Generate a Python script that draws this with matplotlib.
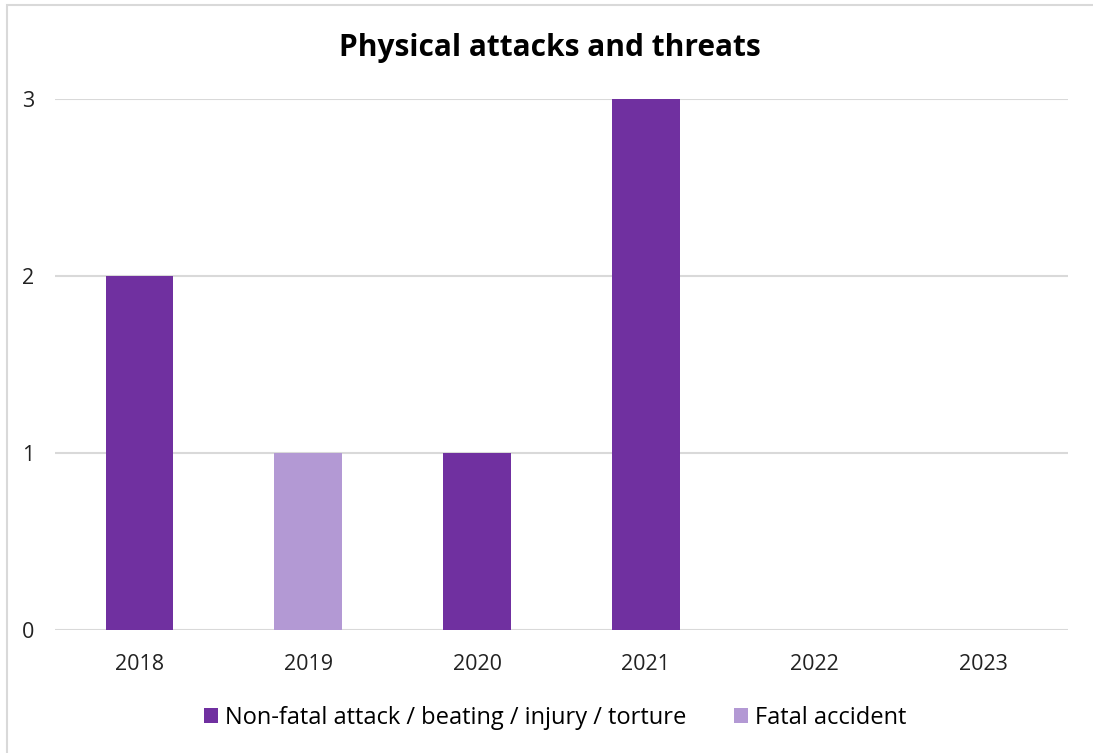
import numpy as np
import matplotlib
matplotlib.use("Agg")
from matplotlib import pyplot as plt
from matplotlib.patches import Rectangle

years = ["2018", "2019", "2020", "2021", "2022", "2023"]
non_fatal = [2, 0, 1, 3, 0, 0]
fatal = [0, 1, 0, 0, 0, 0]

plt.rcParams['font.family'] = ["Open Sans", 'DejaVu Sans']

fig = plt.figure(figsize=(10.93, 7.53), dpi=100)
# light frame round the chart
fig.patches.append(Rectangle((7/1093, -0.1), 1.2, 1 - 5/753 + 0.1, transform=fig.transFigure,
                             fill=False, edgecolor="#D9D9D9", linewidth=1.5))
ax = fig.add_axes([55/1093, 1 - 630/753, 1013/1093, 531/753])

x = np.arange(len(years))
ax.bar(x, non_fatal, width=0.4, color="#7030A0", label="Non-fatal attack / beating / injury / torture", zorder=3)
ax.bar(x, fatal, width=0.4, bottom=non_fatal, color="#B399D4", label="Fatal accident", zorder=3)

ax.set_xlim(-0.5, len(years) - 0.5)
ax.set_ylim(0, 3)
ax.set_yticks([0, 1, 2, 3])
ax.set_xticks(x)
ax.set_xticklabels(years)
ax.tick_params(length=0, labelsize=15.5, colors="#222222")
ax.tick_params(axis="x", pad=17)
ax.tick_params(axis="y", pad=24)
for lbl in ax.get_yticklabels():
    lbl.set_horizontalalignment("left")
ax.grid(axis="y", color="#D9D9D9", linewidth=1.5, zorder=0)
for s in ax.spines.values():
    s.set_visible(False)

fig.text(0.503, 1 - 48/753, "Physical attacks and threats", ha="center", va="center",
         fontsize=21.5, fontweight="bold")
fig.legend(loc="center", bbox_to_anchor=(0.508, 1 - 718/753), ncol=2, frameon=False,
           fontsize=17, handlelength=0.6, handleheight=0.6, handletextpad=0.3, columnspacing=2.0)

fig.savefig("out.png", dpi=100)
